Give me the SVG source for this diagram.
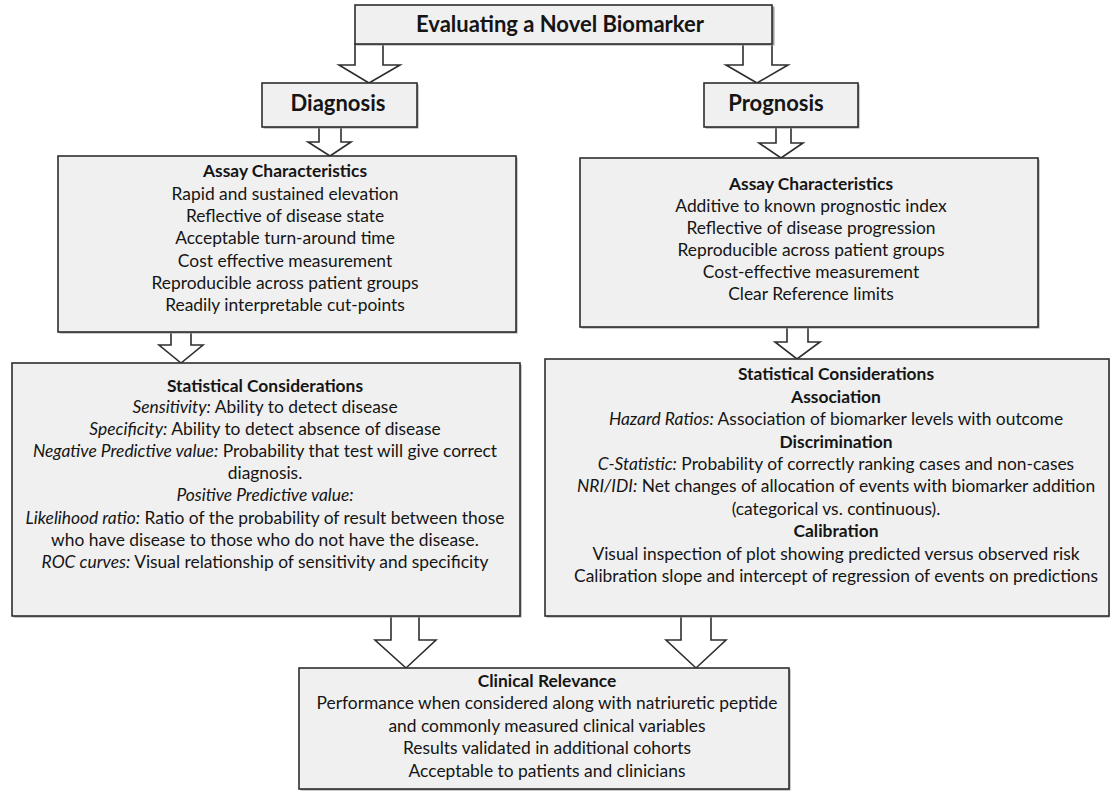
<svg xmlns="http://www.w3.org/2000/svg" width="1112" height="792" viewBox="0 0 1112 792">
<style>
  .box { fill: #f0f0f0; stroke: #2e2e2e; stroke-width: 1.6; }
  .shadow { fill: #9a9a9a; }
  .arrow { fill: #ffffff; stroke: #2e2e2e; stroke-width: 1.6; stroke-linejoin: miter; }
  text { font-family: Lato, "Liberation Sans", sans-serif; fill: #151515; text-anchor: middle; }
  .t { font-size: 17.4px; }
  .h { font-size: 17.4px; font-weight: bold; }
  .big { font-size: 22px; font-weight: bold; }
  .i { font-style: italic; }
</style>
<rect width="1112" height="792" fill="#ffffff"/>

<g id="connectors">
  <polygon class="arrow" points="355,44 383,44 383,65 400,65 369,83 339,65 355,65"/>
  <polygon class="arrow" points="743,44 772,44 772,65 788,65 757,83 726,65 743,65"/>
  <polygon class="arrow" points="319,127 341,127 341,142 351,142 330,156 308,142 319,142"/>
  <polygon class="arrow" points="776,127 791,127 791,143 803,143 781,158 759,143 776,143"/>
  <polygon class="arrow" points="171,332 191,332 191,345 203,345 181,363 159,345 171,345"/>
  <polygon class="arrow" points="787,327 808,327 808,342 820,342 797,359 775,342 787,342"/>
  <polygon class="arrow" points="391,616 419,616 419,640 436,640 406,668 375,640 391,640"/>
  <polygon class="arrow" points="681,616 711,616 711,640 726,640 696,668 666,640 681,640"/>
</g>

<g id="title">
  <rect class="shadow" x="356.5" y="6.5" width="418" height="39"/>
  <rect class="box" x="355" y="5" width="417" height="39"/>
  <text class="big" x="560" y="32">Evaluating a Novel Biomarker</text>
</g>

<g id="diagnosis">
  <rect class="shadow" x="263.5" y="84.5" width="155" height="44"/>
  <rect class="box" x="262" y="83" width="155" height="44"/>
  <text class="big" x="338" y="111">Diagnosis</text>
</g>

<g id="prognosis">
  <rect class="shadow" x="705.5" y="84.5" width="154" height="44"/>
  <rect class="box" x="704" y="83" width="154" height="44"/>
  <text class="big" x="776" y="111">Prognosis</text>
</g>

<g id="assay-diagnosis">
  <rect class="shadow" x="59.5" y="157.5" width="458" height="176"/>
  <rect class="box" x="58" y="156" width="458" height="176"/>
  <text class="h" x="285" y="177">Assay Characteristics</text>
  <text class="t" x="285" y="200">Rapid and sustained elevation</text>
  <text class="t" x="285" y="222">Reflective of disease state</text>
  <text class="t" x="285" y="244">Acceptable turn-around time</text>
  <text class="t" x="285" y="267">Cost effective measurement</text>
  <text class="t" x="285" y="289">Reproducible across patient groups</text>
  <text class="t" x="285" y="311">Readily interpretable cut-points</text>
</g>

<g id="assay-prognosis">
  <rect class="shadow" x="581.5" y="159.5" width="458" height="169"/>
  <rect class="box" x="580" y="158" width="458" height="169"/>
  <text class="h" x="811" y="190">Assay Characteristics</text>
  <text class="t" x="811" y="212">Additive to known prognostic index</text>
  <text class="t" x="811" y="234">Reflective of disease progression</text>
  <text class="t" x="811" y="256">Reproducible across patient groups</text>
  <text class="t" x="811" y="278">Cost-effective measurement</text>
  <text class="t" x="811" y="300">Clear Reference limits</text>
</g>

<g id="stats-diagnosis">
  <rect class="shadow" x="13.5" y="364.5" width="508" height="253"/>
  <rect class="box" x="12" y="363" width="508" height="253"/>
  <text class="h" x="265" y="392">Statistical Considerations</text>
  <text class="t" x="265" y="413"><tspan class="i">Sensitivity:</tspan> Ability to detect disease</text>
  <text class="t" x="265" y="435"><tspan class="i">Specificity:</tspan> Ability to detect absence of disease</text>
  <text class="t" x="265" y="457"><tspan class="i">Negative Predictive value:</tspan> Probability that test will give correct</text>
  <text class="t" x="265" y="479">diagnosis.</text>
  <text class="t" x="265" y="501"><tspan class="i">Positive Predictive value:</tspan></text>
  <text class="t" x="265" y="524"><tspan class="i">Likelihood ratio:</tspan> Ratio of the probability of result between those</text>
  <text class="t" x="265" y="546">who have disease to those who do not have the disease.</text>
  <text class="t" x="265" y="568"><tspan class="i">ROC curves:</tspan> Visual relationship of sensitivity and specificity</text>
</g>

<g id="stats-prognosis">
  <rect class="shadow" x="546.5" y="360.5" width="563" height="257"/>
  <rect class="box" x="545" y="359" width="564" height="257"/>
  <text class="h" x="836" y="380">Statistical Considerations</text>
  <text class="h" x="836" y="403">Association</text>
  <text class="t" x="836" y="425"><tspan class="i">Hazard Ratios:</tspan> Association of biomarker levels with outcome</text>
  <text class="h" x="836" y="448">Discrimination</text>
  <text class="t" x="836" y="470"><tspan class="i">C-Statistic:</tspan> Probability of correctly ranking cases and non-cases</text>
  <text class="t" x="836" y="492"><tspan class="i">NRI/IDI:</tspan> Net changes of allocation of events with biomarker addition</text>
  <text class="t" x="836" y="515">(categorical vs. continuous).</text>
  <text class="h" x="836" y="537">Calibration</text>
  <text class="t" x="836" y="560">Visual inspection of plot showing predicted versus observed risk</text>
  <text class="t" x="836" y="582">Calibration slope and intercept of regression of events on predictions</text>
</g>

<g id="clinical-relevance">
  <rect class="shadow" x="300.5" y="669.5" width="490" height="121"/>
  <rect class="box" x="299" y="668" width="490" height="121"/>
  <text class="h" x="547" y="687">Clinical Relevance</text>
  <text class="t" x="547" y="709">Performance when considered along with natriuretic peptide</text>
  <text class="t" x="547" y="732">and commonly measured clinical variables</text>
  <text class="t" x="547" y="754">Results validated in additional cohorts</text>
  <text class="t" x="547" y="777">Acceptable to patients and clinicians</text>
</g>
</svg>
